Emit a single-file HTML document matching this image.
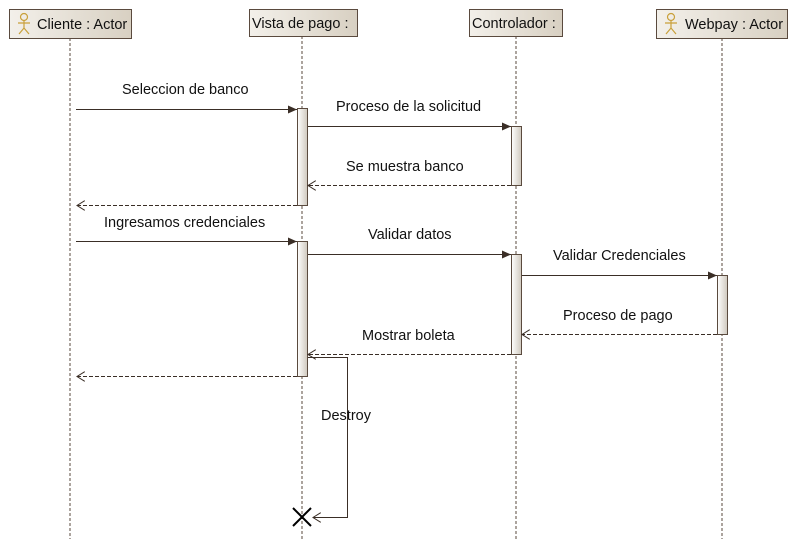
<!DOCTYPE html><html><head><style>body{margin:0;background:#fff}</style></head><body>
<svg width="798" height="539" xmlns="http://www.w3.org/2000/svg" font-family="Liberation Sans, sans-serif" font-size="14.5">
<defs>
<linearGradient id="g" x1="0" x2="1"><stop offset="0" stop-color="#f3f0ea"/><stop offset="1" stop-color="#d8d0c2"/></linearGradient>
<linearGradient id="a" x1="0" x2="1"><stop offset="0" stop-color="#fff"/><stop offset="1" stop-color="#cfc8bd"/></linearGradient>
<marker id="f" markerWidth="10" markerHeight="8" refX="9" refY="4" orient="auto" markerUnits="userSpaceOnUse"><path d="M0,0L9,4L0,8z" fill="#3a2e26"/></marker>
<marker id="o" markerWidth="10" markerHeight="10" refX="8" refY="5" orient="auto" markerUnits="userSpaceOnUse"><path d="M0,0L8,5L0,10" fill="none" stroke="#3a2e26"/></marker>
</defs>
<g stroke="#5a4a3e" stroke-dasharray="3,2" fill="none">
<line x1="70" y1="38" x2="70" y2="539"/><line x1="302" y1="36" x2="302" y2="539"/><line x1="516" y1="36" x2="516" y2="539"/><line x1="722" y1="38" x2="722" y2="539"/>
</g>
<g stroke="#5a4a3e" fill="url(#g)">
<rect x="9.5" y="9.5" width="122" height="29"/><rect x="249.5" y="9.5" width="108" height="27"/><rect x="469.5" y="9.5" width="93" height="27"/><rect x="656.5" y="9.5" width="131" height="29"/>
</g>
<g fill="none" stroke="#c9a03a" stroke-width="1.2"><circle cx="24" cy="17" r="3.5"/><path d="M24,20.5V28M18,23H30M19,34L24,28L29,34"/><circle cx="671" cy="17" r="3.5"/><path d="M671,20.5V28M665,23H677M666,34L671,28L676,34"/></g>
<g fill="#111"><text x="37" y="29">Cliente : Actor</text><text x="252" y="28">Vista de pago :</text><text x="472" y="28">Controlador :</text><text x="685" y="29">Webpay : Actor</text></g>
<g stroke="#5a4a3e" fill="url(#a)">
<rect x="297.5" y="108.5" width="10" height="97"/><rect x="297.5" y="241.5" width="10" height="135"/>
<rect x="511.5" y="126.5" width="10" height="59"/><rect x="511.5" y="254.5" width="10" height="100"/>
<rect x="717.5" y="275.5" width="10" height="59"/>
</g>
<g stroke="#3a2e26" fill="none">
<line x1="76" y1="109.5" x2="297" y2="109.5" marker-end="url(#f)"/>
<line x1="308" y1="126.5" x2="511" y2="126.5" marker-end="url(#f)"/>
<line x1="76" y1="241.5" x2="297" y2="241.5" marker-end="url(#f)"/>
<line x1="308" y1="254.5" x2="511" y2="254.5" marker-end="url(#f)"/>
<line x1="522" y1="275.5" x2="717" y2="275.5" marker-end="url(#f)"/>
<g stroke-dasharray="4,2">
<line x1="511" y1="185.5" x2="308" y2="185.5" marker-end="url(#o)"/>
<line x1="297" y1="205.5" x2="77" y2="205.5" marker-end="url(#o)"/>
<line x1="717" y1="334.5" x2="522" y2="334.5" marker-end="url(#o)"/>
<line x1="511" y1="354.5" x2="308" y2="354.5" marker-end="url(#o)"/>
<line x1="297" y1="376.5" x2="77" y2="376.5" marker-end="url(#o)"/>
</g>
<path d="M308,357.5H347.5V517.5H313" marker-end="url(#o)"/>
<path d="M293,508L311,526M311,508L293,526" stroke="#000" stroke-width="2"/>
</g>
<g fill="#111">
<text x="122" y="94">Seleccion de banco</text><text x="336" y="111">Proceso de la solicitud</text>
<text x="346" y="171">Se  muestra banco</text><text x="104" y="227">Ingresamos credenciales</text>
<text x="368" y="239">Validar datos</text><text x="553" y="260">Validar Credenciales</text>
<text x="563" y="320">Proceso de pago</text><text x="362" y="340">Mostrar boleta</text>
<text x="321" y="420">Destroy</text>
</g>
</svg></body></html>
